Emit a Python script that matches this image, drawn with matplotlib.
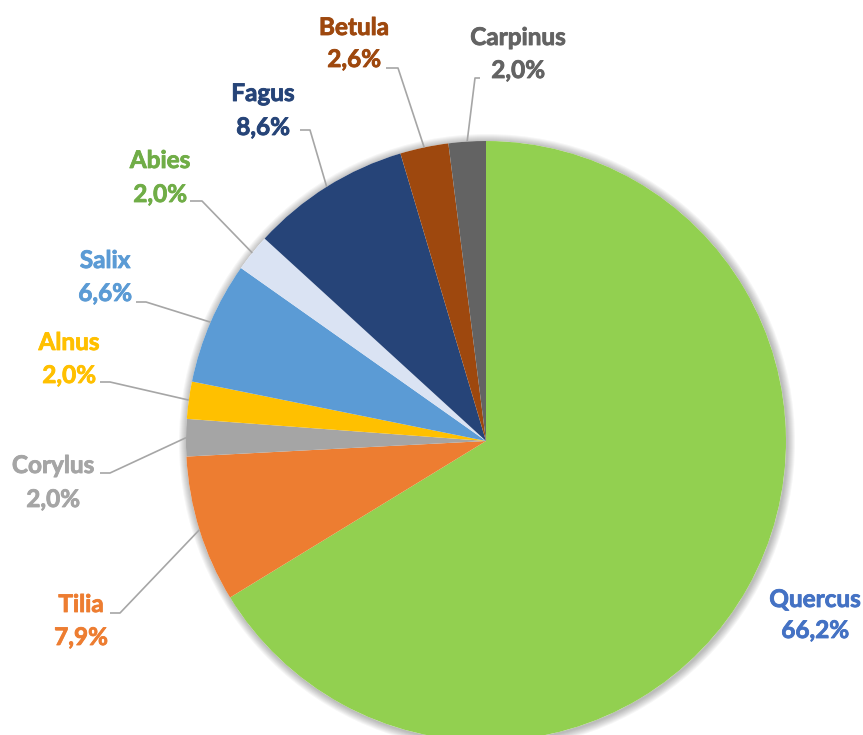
import numpy as np
import matplotlib.pyplot as plt
import matplotlib.patheffects as pe
from matplotlib.patches import Circle

# data
species = ["Quercus", "Tilia", "Corylus", "Alnus", "Salix", "Abies", "Fagus", "Betula", "Carpinus"]
shares = [66.2, 7.9, 2.0, 2.0, 6.6, 2.0, 8.6, 2.6, 2.0]
wedge_colors = ["#92D050", "#ED7D31", "#A5A5A5", "#FFC000", "#5B9BD5", "#DAE3F3", "#264478", "#9E480E", "#636363"]
label_colors = ["#4472C4", "#ED7D31", "#A5A5A5", "#FFC000", "#5B9BD5", "#70AD47", "#264478", "#9E480E", "#636363"]

# label layout in pixels: x center, baseline of name, baseline of percent
label_pos = [(815, 607, 638), (81, 612, 645), (53, 473, 507), (69, 350, 383), (105, 268, 301),
             (160, 168, 202), (263, 101, 135), (354, 35, 67), (518, 45, 78)]
# leader knee: start x, end x, y
leaders = [None, (110, 120, 613), (100, 110, 473), (100, 110, 382), (136, 146, 302),
           (190, 202, 201), (300, 310, 130), (386, 398, 68), (475, 480, 78)]

W, H = 863, 735
cx, cy, r = 486, H - 441, 300

fig = plt.figure(figsize=(W / 100, H / 100), dpi=100)
ax = fig.add_axes([0, 0, 1, 1])
ax.set_xlim(0, W)
ax.set_ylim(0, H)
ax.set_aspect("equal")
ax.axis("off")

# soft shadow around the pie
for k in range(1, 9):
    ax.add_patch(Circle((cx + 1, cy - 1), r + k, color="black", alpha=0.035, lw=0, zorder=0))
ax.add_patch(Circle((cx, cy), r, color="white", lw=0, zorder=0.5))

wedges, _ = ax.pie(shares, colors=wedge_colors, startangle=90, counterclock=False,
                   center=(cx, cy), radius=r, wedgeprops=dict(linewidth=0))
for w in wedges:
    w.set_zorder(1)

ax.set_xlim(0, W)
ax.set_ylim(0, H)

font = ["Lato", "DejaVu Sans"]
cum = np.cumsum([0] + shares[:-1])
total = sum(shares)
for i, name in enumerate(species):
    lx, b1, b2 = label_pos[i]
    pct = f"{shares[i]:.1f}%".replace(".", ",")
    for s, b in ((name, b1), (pct, b2)):
        ax.text(lx, H - b, s, ha="center", va="baseline", color=label_colors[i],
                fontsize=17.5, fontweight="bold", family=font, zorder=3,
                path_effects=[pe.withStroke(linewidth=0.6, foreground=label_colors[i])])
    if leaders[i] is not None:
        mid = (cum[i] + shares[i] / 2) / total
        ang = np.deg2rad(90 - mid * 360)
        ex, ey = cx + r * np.cos(ang), cy + r * np.sin(ang)
        x0, x1, yk = leaders[i]
        xs = [x0, x1, ex] if ex > x1 else [x1, x0, ex]
        ax.plot(xs, [H - yk, H - yk, ey], color="#A6A6A6", lw=1.2, zorder=2,
                solid_capstyle="butt")

plt.savefig("out.png", dpi=100)
